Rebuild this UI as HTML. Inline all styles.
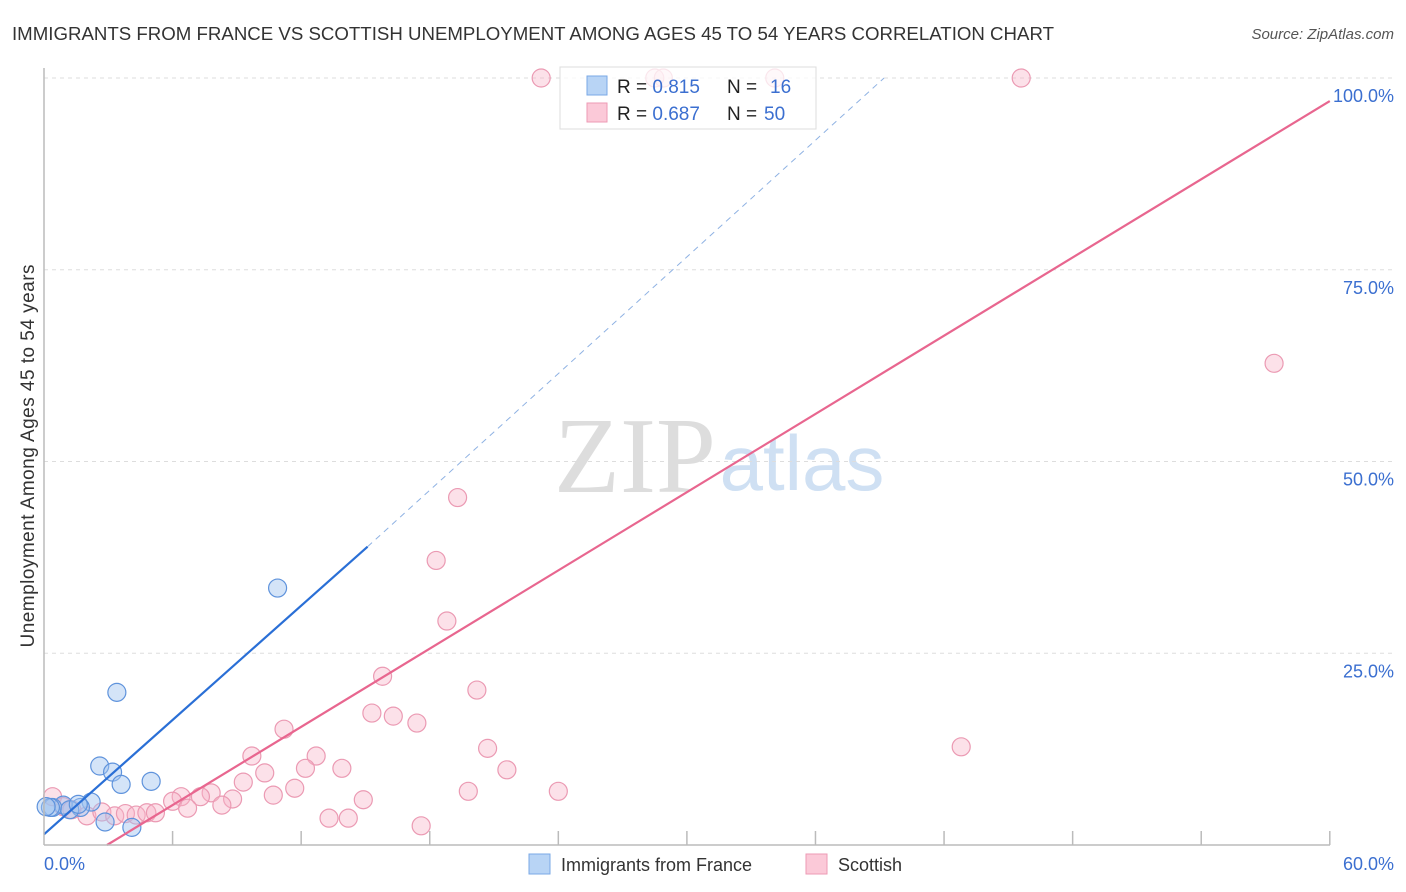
<!DOCTYPE html>
<html><head><meta charset="utf-8"><style>
body{margin:0;background:#fff;}
svg{display:block;font-family:"Liberation Sans",sans-serif;}
</style></head><body>
<svg id="c" width="1406" height="892" viewBox="0 0 1406 892">
<text x="12" y="40" font-size="18" fill="#333" textLength="1042" lengthAdjust="spacingAndGlyphs">IMMIGRANTS FROM FRANCE VS SCOTTISH UNEMPLOYMENT AMONG AGES 45 TO 54 YEARS CORRELATION CHART</text>
<text x="1394" y="39" font-size="15" fill="#555" font-style="italic" text-anchor="end">Source: ZipAtlas.com</text>
<text x="635" y="492" font-size="108" fill="#ddd" font-family="Liberation Serif,serif" text-anchor="middle">ZIP</text>
<text x="802" y="490" font-size="78" fill="#cfe0f3" text-anchor="middle">atlas</text>
<text transform="translate(34,456) rotate(-90)" font-size="19" fill="#333" text-anchor="middle" textLength="383">Unemployment Among Ages 45 to 54 years</text>
<g id="grid"></g><g id="pts"></g><g id="lines"></g>
<line x1="44" y1="68" x2="44" y2="845" stroke="#bbb" stroke-width="1.5"/>
<line x1="44" y1="845" x2="1330" y2="845" stroke="#bbb" stroke-width="1.5"/>
<text x="44" y="870" font-size="18" fill="#3b6fd0">0.0%</text>
<text x="1394" y="870" font-size="18" fill="#3b6fd0" text-anchor="end">60.0%</text>
<g>
<rect x="560" y="67" width="256" height="62" fill="rgba(255,255,255,0.75)" stroke="#ddd"/>
<rect x="587" y="76" width="20" height="19" fill="#b8d4f5" stroke="#7aa8e6"/>
<rect x="587" y="103" width="20" height="19" fill="#fbc9d8" stroke="#ee9ab4"/>
<text x="617" y="93" font-size="19" fill="#222">R = <tspan fill="#3b6fd0">0.815</tspan><tspan x="727">N = </tspan><tspan fill="#3b6fd0" x="770">16</tspan></text>
<text x="617" y="120" font-size="19" fill="#222">R = <tspan fill="#3b6fd0">0.687</tspan><tspan x="727">N = </tspan><tspan fill="#3b6fd0" x="764">50</tspan></text>
</g>
<g>
<rect x="529" y="854" width="21" height="20" fill="#b8d4f5" stroke="#7aa8e6"/>
<text x="561" y="871" font-size="18" fill="#333">Immigrants from France</text>
<rect x="806" y="854" width="21" height="20" fill="#fbc9d8" stroke="#ee9ab4"/>
<text x="838" y="871" font-size="18" fill="#333">Scottish</text>
</g>
</svg>
<script>
const yTicks=[25,50,75,100];
const yTickLabels=["25.0%","50.0%","75.0%","100.0%"];
const xTicks=[6,12,18,24,30,36,42,48,54,60];
const franceX=[10.9,3.4,2.6,3.2,3.6,5.0,4.1,2.85,2.2,1.7,0.9,0.4,0.3,1.2,1.6,0.1];
const franceY=[33.5,19.9,10.3,9.5,7.9,8.3,2.3,3.0,5.6,4.9,5.2,4.9,4.9,4.6,5.3,5.0];
const scotX=[23.2,28.5,28.9,34.1,45.6,57.4,42.8,19.3,18.3,18.8,15.8,20.2,15.3,16.3,17.4,11.2,20.7,9.7,12.7,12.2,13.9,21.6,10.3,9.3,11.7,19.8,24.0,7.8,10.7,7.3,6.4,8.8,14.9,6.0,8.3,6.7,13.3,14.2,17.6,0.4,0.9,1.3,2.0,2.7,3.3,3.8,4.3,4.8,5.2];
const scotY=[100,100,100,100,100,62.8,12.8,45.3,37.1,29.2,22.0,20.2,17.2,16.8,15.9,15.1,12.6,11.6,11.6,10.0,10.0,9.8,9.4,8.2,7.4,7.0,7.0,6.8,6.5,6.3,6.3,6.0,5.9,5.7,5.2,4.8,3.5,3.5,2.5,6.3,5.0,4.6,3.8,4.3,3.8,4.1,3.9,4.2,4.2];
const franceLine=[[0,1.4],[15.1,38.9],[39.2,100]];
const scotLine=[[2.94,0],[60,97]];
const sx=v=>44+v*21.43, sy=v=>845-v*7.67;
const NS="http://www.w3.org/2000/svg";
function mk(t,a,p){const e=document.createElementNS(NS,t);for(const k in a)e.setAttribute(k,a[k]);p.appendChild(e);return e;}
const grid=document.getElementById('grid');
yTicks.forEach((t,i)=>{
 const l=mk('line',{x1:44,x2:1394,y1:sy(t),y2:sy(t),stroke:'#ddd','stroke-dasharray':'4,4'},grid);
 
 
 const tx=mk('text',{x:1394,y:sy(t)+24,'font-size':18,fill:'#3b6fd0','text-anchor':'end'},grid);
 tx.textContent=yTickLabels[i];
 
 
});
xTicks.forEach(t=>{
 const l=mk('line',{x1:sx(t),x2:sx(t),y1:831,y2:845,stroke:'#bbb','stroke-width':1.5},grid);
 
 
});
const pts=document.getElementById('pts');
scotX.forEach((x,i)=>{
 const c=mk('circle',{cx:sx(x),cy:sy(scotY[i]),r:9,fill:'rgba(248,180,200,0.4)',stroke:'#eb9ab3','stroke-width':1.2},pts);
 
 
});
franceX.forEach((x,i)=>{
 const c=mk('circle',{cx:sx(x),cy:sy(franceY[i]),r:9,fill:'rgba(160,195,240,0.45)',stroke:'#5f93dc','stroke-width':1.2},pts);
 
 
});
const lines=document.getElementById('lines');
let a=mk('line',{x1:sx(franceLine[0][0]),y1:sy(franceLine[0][1]),x2:sx(franceLine[1][0]),y2:sy(franceLine[1][1]),stroke:'#2a6fd6','stroke-width':2.2},lines);


let b=mk('line',{x1:sx(franceLine[1][0]),y1:sy(franceLine[1][1]),x2:sx(franceLine[2][0]),y2:sy(franceLine[2][1]),stroke:'#8fb2e3','stroke-width':1,'stroke-dasharray':'6,5'},lines);


let s=mk('line',{x1:sx(scotLine[0][0]),y1:sy(scotLine[0][1]),x2:sx(scotLine[1][0]),y2:sy(scotLine[1][1]),stroke:'#e8668f','stroke-width':2.2},lines);


</script>
</body></html>
